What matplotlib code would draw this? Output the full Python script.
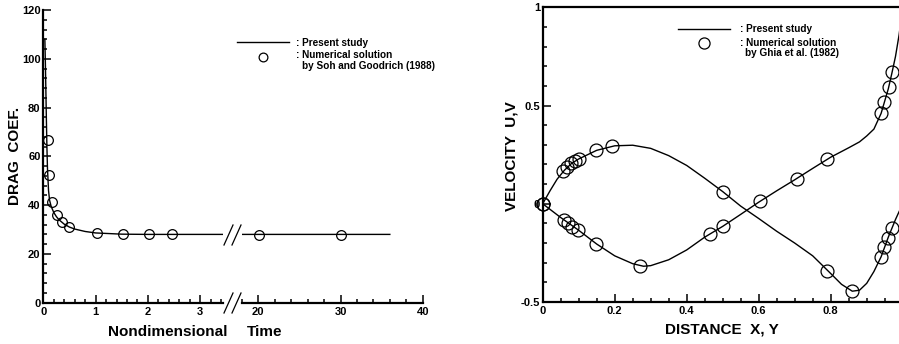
import matplotlib
matplotlib.use('Agg')
import matplotlib.pyplot as plt
from matplotlib.lines import Line2D
from matplotlib.ticker import MultipleLocator, FixedLocator, FormatStrFormatter

plt.rcParams['font.family'] = ['Liberation Sans', 'DejaVu Sans']
plt.rcParams['font.weight'] = 'bold'
plt.rcParams['font.size'] = 8

# ---- left panel: drag coefficient vs time (present study line + Soh & Goodrich circles)
cd_time = [0.03, 0.04, 0.05, 0.06, 0.07, 0.08, 0.1, 0.12, 0.15, 0.2, 0.25, 0.3,
           0.4, 0.5, 0.6, 0.8, 1.0, 1.5, 2.0, 3.44, 18.0, 36.0]
cd_line = [108, 98, 86, 74, 63, 55, 46, 42, 39.5, 37, 35.3, 34,
           32.2, 31, 30.2, 29.2, 28.6, 28.1, 28.0, 28.0, 28.0, 28.0]
soh_time = [0.096, 0.115, 0.16, 0.256, 0.35, 0.5, 1.02, 1.53, 2.02, 2.47, 20.1, 30.05]
soh_cd = [66.7, 52.4, 41.2, 36.0, 33.2, 30.9, 28.5, 28.0, 28.0, 28.0, 27.8, 27.8]

# ---- right panel: centreline velocities (present study lines + Ghia et al. circles)
u_pos = [0, 0.05, 0.1, 0.15, 0.2, 0.25, 0.28, 0.3, 0.35, 0.4, 0.45, 0.5, 0.55, 0.6,
         0.65, 0.7, 0.75, 0.8, 0.85, 0.88, 0.9, 0.92, 0.94, 0.96, 0.97, 0.98, 0.99, 1.0]
u_line = [0, -0.07, -0.135, -0.205, -0.265, -0.305, -0.318, -0.315, -0.285, -0.235,
          -0.17, -0.115, -0.054, 0.008, 0.066, 0.122, 0.18, 0.237, 0.285, 0.315,
          0.345, 0.38, 0.46, 0.585, 0.665, 0.75, 0.86, 1.0]
v_pos = [0, 0.02, 0.04, 0.06, 0.08, 0.1, 0.15, 0.2, 0.25, 0.3, 0.35, 0.4, 0.45, 0.5,
         0.55, 0.6, 0.65, 0.7, 0.75, 0.8, 0.83, 0.86, 0.88, 0.9, 0.92, 0.94, 0.96,
         0.98, 1.0]
v_line = [0, 0.065, 0.125, 0.17, 0.205, 0.228, 0.272, 0.295, 0.298, 0.282, 0.245,
          0.195, 0.13, 0.062, -0.012, -0.075, -0.14, -0.2, -0.265, -0.355, -0.41,
          -0.445, -0.44, -0.405, -0.345, -0.27, -0.17, -0.08, 0.0]
ghia_u_pos = [0.0, 0.06, 0.071, 0.082, 0.099, 0.147, 0.27, 0.465, 0.5, 0.604, 0.706,
              0.79, 0.939, 0.949, 0.961, 0.971]
ghia_u = [0.0, -0.082, -0.099, -0.116, -0.133, -0.204, -0.315, -0.153, -0.112, 0.014,
          0.128, 0.226, 0.461, 0.519, 0.594, 0.670]
ghia_v_pos = [0.0, 0.057, 0.068, 0.078, 0.089, 0.102, 0.148, 0.192, 0.5, 0.79, 0.86,
              0.939, 0.949, 0.958, 0.971]
ghia_v = [0.0, 0.165, 0.185, 0.207, 0.216, 0.228, 0.272, 0.292, 0.058, -0.34, -0.442,
          -0.272, -0.221, -0.175, -0.124]
dist_ticks = [0, 0.2, 0.4, 0.6, 0.8]

W, H = 899, 344
fig = plt.figure(figsize=(W / 100, H / 100), dpi=100)


def box(x0, y0, x1, y1):
    # pixel box (top-left origin) -> figure fraction
    return [x0 / W, 1 - y1 / H, (x1 - x0) / W, (y1 - y0) / H]


def px(x, y):
    return x / W, 1 - y / H


def fig_line(xs, ys, **kw):
    fx = [x / W for x in xs]
    fy = [1 - y / H for y in ys]
    fig.add_artist(Line2D(fx, fy, transform=fig.transFigure, color='black', **kw))


def style(ax):
    ax.patch.set_alpha(0)
    for s in ax.spines.values():
        s.set_linewidth(1.6)
    ax.tick_params(which='both', direction='in', width=1.1)
    ax.tick_params(which='major', length=6)
    ax.tick_params(which='minor', length=3.2)
    ax.tick_params(axis='x', pad=3)
    ax.tick_params(axis='y', pad=2)


axA = fig.add_axes(box(43.3, 10, 223.2, 302.7))
axB = fig.add_axes(box(241.9, 10, 422.7, 302.7))
axR = fig.add_axes(box(542.7, 7.3, 902.7, 302))

for ax in (axA, axB, axR):
    style(ax)

# left panel, first segment (0 - 3.44)
axA.plot(cd_time, cd_line, color='black', lw=1.0)
axA.plot(soh_time, soh_cd, 'o', mfc='none', mec='black', ms=7, mew=0.9, clip_on=False)
axA.set_xlim(0, 3.44)
axA.set_ylim(0, 120)
axA.spines['top'].set_visible(False)
axA.spines['right'].set_visible(False)
axA.xaxis.set_major_locator(MultipleLocator(1))
axA.xaxis.set_minor_locator(MultipleLocator(0.2))
axA.yaxis.set_major_locator(MultipleLocator(20))
axA.yaxis.set_minor_locator(MultipleLocator(4))
axA.xaxis.set_major_formatter(FormatStrFormatter('%g'))
axA.yaxis.set_major_formatter(FormatStrFormatter('%g'))

# left panel, second segment (18 - 40)
axB.plot(cd_time, cd_line, color='black', lw=1.0)
axB.plot(soh_time, soh_cd, 'o', mfc='none', mec='black', ms=7, mew=0.9)
axB.set_xlim(18, 40)
axB.set_ylim(0, 120)
for s in ('top', 'right', 'left'):
    axB.spines[s].set_visible(False)
axB.set_yticks([])
axB.xaxis.set_major_locator(MultipleLocator(10))
axB.xaxis.set_minor_locator(MultipleLocator(2))
axB.xaxis.set_major_formatter(FormatStrFormatter('%g'))

# break marks on the axis and on the curve
for yc in (303, 235):
    fig_line([224, 233], [yc + 10, yc - 10], lw=0.9)
    fig_line([232, 241], [yc + 10, yc - 10], lw=0.9)

fig.text(*px(15, 156), 'DRAG  COEF.', rotation=90, ha='center', va='center', fontsize=11)
fig.text(*px(168, 331.5), 'Nondimensional', ha='center', va='center', fontsize=11)
fig.text(*px(265, 331.5), 'Time', ha='center', va='center', fontsize=11)

# left legend
fig_line([237, 289], [42.3, 42.3], lw=1.0)
fig.add_artist(Line2D([263.3 / W], [1 - 56.7 / H], transform=fig.transFigure, marker='o',
                      mfc='none', mec='black', ms=6.3, mew=0.9))
fig.text(*px(296, 43.3), ': Present study', ha='left', va='center', fontsize=7.2)
fig.text(*px(296, 55.3), ': Numerical solution', ha='left', va='center', fontsize=7.2)
fig.text(*px(301.5, 66.3), 'by Soh and Goodrich (1988)', ha='left', va='center', fontsize=7.2)

# right panel
axR.plot(u_pos, u_line, color='black', lw=1.0)
axR.plot(v_pos, v_line, color='black', lw=1.0)
axR.plot(ghia_u_pos, ghia_u, 'o', mfc='none', mec='black', ms=9.3, mew=0.9, clip_on=False)
axR.plot(ghia_v_pos, ghia_v, 'o', mfc='none', mec='black', ms=9.3, mew=0.9, clip_on=False)
axR.set_xlim(0, 1)
axR.set_ylim(-0.5, 1)
axR.xaxis.set_major_locator(FixedLocator(dist_ticks))
axR.xaxis.set_minor_locator(MultipleLocator(0.05))
axR.yaxis.set_major_locator(MultipleLocator(0.5))
axR.yaxis.set_minor_locator(MultipleLocator(0.1))
axR.xaxis.set_major_formatter(FormatStrFormatter('%g'))
axR.yaxis.set_major_formatter(FormatStrFormatter('%g'))
axR.tick_params(top=False, right=False)

fig.text(*px(512, 156), 'VELOCITY  U,V', rotation=90, ha='center', va='center', fontsize=11)
fig.text(*px(722, 329.5), 'DISTANCE  X, Y', ha='center', va='center', fontsize=11)

# right legend
fig_line([678, 730], [29, 29], lw=1.0)
fig.add_artist(Line2D([704 / W], [1 - 43 / H], transform=fig.transFigure, marker='o',
                      mfc='none', mec='black', ms=8, mew=0.9))
fig.text(*px(740, 28.5), ': Present study', ha='left', va='center', fontsize=7.2)
fig.text(*px(740, 42.7), ': Numerical solution', ha='left', va='center', fontsize=7.2)
fig.text(*px(745, 53.5), 'by Ghia et al. (1982)', ha='left', va='center', fontsize=7.2)

fig.savefig('out.png', dpi=100)
